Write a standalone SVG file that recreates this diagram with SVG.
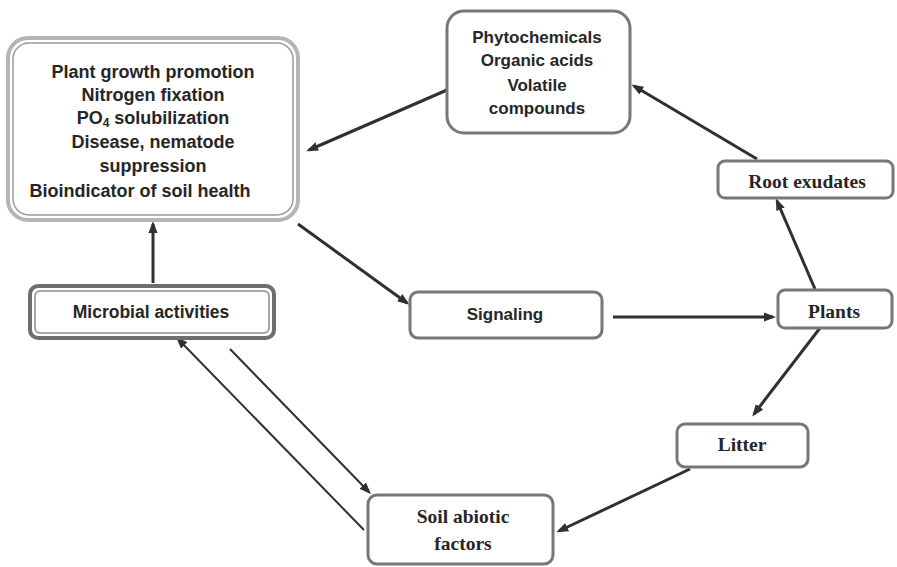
<svg xmlns="http://www.w3.org/2000/svg" width="897" height="567" viewBox="0 0 897 567">
<style>
.sans{font-family:"Liberation Sans",Arial,sans-serif;font-weight:bold;fill:#262626;text-anchor:middle}
.serif{font-family:"Liberation Serif","Times New Roman",serif;font-weight:bold;fill:#262626;text-anchor:middle;font-size:19.5px}
.box{fill:#fff;stroke:#777;stroke-width:3}
.thick{stroke:#303030;stroke-width:3;fill:none}
.thin{stroke:#303030;stroke-width:2;fill:none}
</style>
<defs>
<marker id="ah" markerUnits="userSpaceOnUse" markerWidth="12" markerHeight="10" refX="9" refY="5" orient="auto">
<path d="M0,0.5 L12,5 L0,9.5 z" fill="#303030"/>
</marker>
</defs>
<rect width="897" height="567" fill="#fff"/>
<g id="connectors">
<line class="thick" x1="447" y1="90" x2="309" y2="150" marker-end="url(#ah)"/>
<line class="thick" x1="757" y1="159" x2="634" y2="86" marker-end="url(#ah)"/>
<line class="thick" x1="815" y1="289" x2="777" y2="201" marker-end="url(#ah)"/>
<line class="thick" x1="298" y1="224" x2="407" y2="303" marker-end="url(#ah)"/>
<line class="thick" x1="153" y1="283" x2="153" y2="224" marker-end="url(#ah)"/>
<line class="thick" x1="613" y1="317" x2="773" y2="317" marker-end="url(#ah)"/>
<line class="thick" x1="820" y1="328" x2="754" y2="414" marker-end="url(#ah)"/>
<line class="thick" x1="690" y1="469" x2="559" y2="531" marker-end="url(#ah)"/>
<line class="thin" x1="364" y1="530" x2="178" y2="339" marker-end="url(#ah)"/>
<line class="thin" x1="230" y1="349" x2="369" y2="492" marker-end="url(#ah)"/>
</g>
<g id="benefits">
<rect x="8" y="38" width="290" height="182" rx="20" fill="#fff" stroke="#b5b5b5" stroke-width="4"/>
<rect x="13" y="43" width="280" height="172" rx="16" fill="none" stroke="#9a9a9a" stroke-width="1.5"/>
<text class="sans" font-size="18" x="153" y="78">Plant growth promotion</text>
<text class="sans" font-size="18" x="153" y="101">Nitrogen fixation</text>
<text class="sans" font-size="18" x="153" y="124">PO<tspan font-size="12" dy="3">4</tspan><tspan dy="-3"> solubilization</tspan></text>
<text class="sans" font-size="18" x="153" y="148">Disease, nematode</text>
<text class="sans" font-size="18" x="153" y="172">suppression</text>
<text class="sans" font-size="18" x="140" y="197">Bioindicator of soil health</text>
</g>
<g id="phytochemicals">
<rect class="box" x="447" y="11" width="183" height="122" rx="17" stroke="#666"/>
<text class="sans" font-size="17" x="537" y="43">Phytochemicals</text>
<text class="sans" font-size="17" x="537" y="66">Organic acids</text>
<text class="sans" font-size="17" x="537" y="91">Volatile</text>
<text class="sans" font-size="17" x="537" y="114">compounds</text>
</g>
<g id="root-exudates">
<rect class="box" x="718" y="161" width="175" height="37" rx="7"/>
<text class="serif" x="807" y="188">Root exudates</text>
</g>
<g id="plants">
<rect class="box" x="778" y="290" width="114" height="38" rx="7" stroke="#999"/>
<text class="serif" x="834" y="318">Plants</text>
</g>
<g id="litter">
<rect class="box" x="677" y="424" width="131" height="43" rx="8"/>
<text class="serif" x="742" y="451">Litter</text>
</g>
<g id="soil-abiotic">
<rect class="box" x="368" y="495" width="185" height="69" rx="9"/>
<text class="serif" x="463" y="523">Soil abiotic</text>
<text class="serif" x="463" y="550">factors</text>
</g>
<g id="signaling">
<rect class="box" x="410" y="292" width="192" height="46" rx="8" stroke="#aaa"/>
<text class="sans" font-size="17" x="505" y="320">Signaling</text>
</g>
<g id="microbial">
<rect x="30" y="286" width="244" height="52" rx="8" fill="#fff" stroke="#6e6e6e" stroke-width="4"/>
<rect x="35" y="291" width="234" height="42" rx="5" fill="none" stroke="#8e8e8e" stroke-width="1.5"/>
<text class="sans" font-size="17.5" x="151" y="318">Microbial activities</text>
</g>
</svg>
